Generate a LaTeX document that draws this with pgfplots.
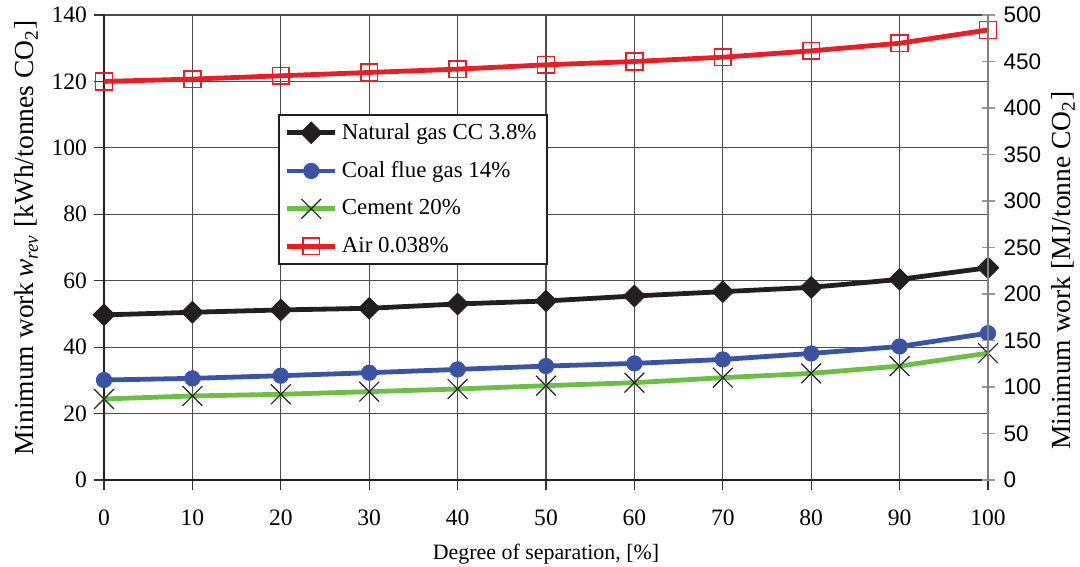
\documentclass[border=0pt]{standalone}
\usepackage{fontspec}
\setmainfont{Liberation Serif}
\newfontfamily\arial{Liberation Sans}
\usepackage{pgfplots}
\pgfplotsset{compat=1.18}
\definecolor{cblack}{HTML}{231F20}
\definecolor{cblue}{HTML}{3A53A4}
\definecolor{cgreen}{HTML}{6DBE45}
\definecolor{cred}{HTML}{ED1C24}
\begin{document}
\begin{tikzpicture}
\useasboundingbox (-52bp,-43.5bp) rectangle (488bp,240bp);
\begin{axis}[
  at={(0,0)}, anchor=south west,
  width=442bp, height=232.5bp, scale only axis,
  xmin=0, xmax=100, ymin=0, ymax=140,
  xtick={0,10,...,100}, ytick={0,20,...,140},
  axis x line*=bottom, axis y line*=left,
  axis line style={cblack, line width=0.8bp},
  grid=major, major grid style={black!70, line width=0.6bp},
  tick align=outside, major tick length=5bp,
  tick style={black!80, line width=0.6bp},
  /pgf/number format/assume math mode=true,
  ticklabel style={font=\fontsize{11.8}{13}\selectfont},
  xticklabel style={yshift=-6.5bp},
  xlabel={Degree of separation, [\%]},
  xlabel style={at={(axis description cs:0.5,-0.172)}, anchor=base, font=\fontsize{11}{13}\selectfont},
  ylabel={Minimum work\,\textit{w}\textsubscript{\textit{rev}} [kWh/tonnes CO\textsubscript{2}]},
  ylabel style={at={(axis description cs:-0.088,0.52)}, anchor=center, font=\fontsize{13.8}{15}\selectfont},
  legend style={at={(axis description cs:0.197,0.787)}, anchor=north west,
    draw=cblack, line width=0.9bp, fill=white,
    font=\fontsize{11.5}{13}\selectfont, row sep=5.2bp,
    nodes={inner sep=2.2bp}},
  legend cell align=left,
  legend image code/.code={\draw[mark repeat=2,mark phase=2,#1] plot coordinates {(0cm,0cm) (0.42cm,0cm) (0.84cm,0cm)};},
]
\addplot[cblack, line width=2.4bp, mark=square*, mark size=3.8bp, mark options={rotate=45, fill=cblack, line width=0.5bp}]
  coordinates {(0,49.7) (10,50.5) (20,51.2) (30,51.7) (40,53.0) (50,53.9) (60,55.4) (70,56.7) (80,58.0) (90,60.4) (100,63.9)};
\addlegendentry{Natural gas CC 3.8\%}
\addplot[cblue, line width=2.4bp, mark=*, mark size=3.8bp, mark options={fill=cblue, line width=0.5bp}]
  coordinates {(0,30.1) (10,30.6) (20,31.4) (30,32.3) (40,33.3) (50,34.3) (60,35.1) (70,36.3) (80,38.1) (90,40.2) (100,44.2)};
\addlegendentry{Coal flue gas 14\%}
\addplot[cgreen, line width=2.4bp, mark=x, mark size=7bp, mark options={draw=cblack, line width=0.6bp}]
  coordinates {(0,24.4) (10,25.3) (20,25.8) (30,26.6) (40,27.4) (50,28.4) (60,29.3) (70,30.8) (80,32.1) (90,34.3) (100,38.2)};
\addlegendentry{Cement 20\%}
\addplot[cred, line width=2.4bp, mark=square, mark size=4.2bp, mark options={draw=cred, fill=none, line width=0.8bp}]
  coordinates {(0,120.0) (10,120.7) (20,121.7) (30,122.7) (40,123.7) (50,125.0) (60,126.0) (70,127.3) (80,129.2) (90,131.5) (100,135.5)};
\addlegendentry{Air 0.038\%}
\end{axis}
\begin{axis}[
  at={(0,0)}, anchor=south west,
  width=442bp, height=232.5bp, scale only axis,
  xmin=0, xmax=100, ymin=0, ymax=500,
  ytick={0,50,...,500},
  axis x line=none, axis y line*=right,
  axis line style={black!50, line width=0.8bp},
  tick align=center, major tick length=6.5bp,
  tick style={black!40, line width=0.6bp},
  /pgf/number format/assume math mode=true,
  yticklabel style={font=\arial\fontsize{11.3}{13}\selectfont, xshift=1bp},
  ylabel={Minimum work [MJ/tonne CO\textsubscript{2}]},
  ylabel style={at={(axis description cs:1.085,0.45)}, anchor=center, font=\fontsize{13.8}{15}\selectfont},
]
\addplot[draw=none] coordinates {(0,0) (100,500)};
\end{axis}
\end{tikzpicture}
\end{document}
